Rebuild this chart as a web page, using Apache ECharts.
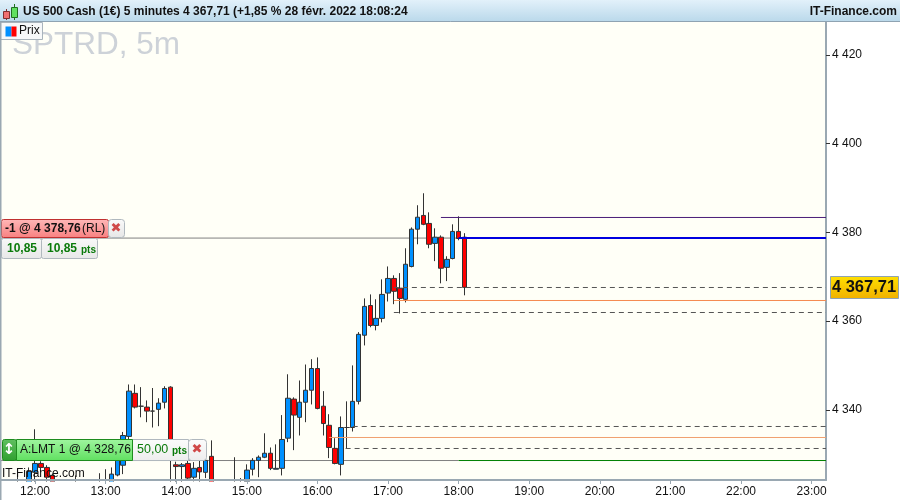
<!DOCTYPE html>
<html><head><meta charset="utf-8">
<script src="https://cdn.jsdelivr.net/npm/echarts@6/dist/echarts.min.js"></script>
<style>html,body{margin:0;padding:0;background:#fff}#c{width:900px;height:500px}</style></head>
<body><div id="c"></div>
<script>
const times=['11:45','11:55','12:00','12:05','12:10','12:15','12:35','12:55',
'13:00','13:05','13:10','13:15','13:20','13:25','13:30','13:35','13:40','13:45','13:50','13:55',
'14:00','14:05','14:10','14:15','14:20','14:25','14:30','14:50','14:55',
'15:00','15:05','15:10','15:15','15:20','15:25','15:30','15:35','15:40','15:45','15:50','15:55',
'16:00','16:05','16:10','16:15','16:20','16:25','16:30','16:35','16:40','16:45','16:50','16:55',
'17:00','17:05','17:10','17:15','17:20','17:25','17:30','17:35','17:40','17:45','17:50','17:55',
'18:00','18:05'];
const opens=[4322.5,4323.5,4325.9,4327.9,4327.0,4325.2,4323.5,4323,
4323.6,4323.5,4325.3,4327.5,4334.0,4343.7,4340.8,4340.6,4339.7,4340.1,4341.7,4345.1,
4327.6,4327.2,4327.9,4324.8,4327.0,4325.9,4329.5,4323.6,4323.5,
4323.8,4326.6,4328.6,4329.3,4330.2,4326.6,4326.8,4333.6,4342.4,4338.3,4341.7,4344.4,
4349.3,4340.8,4336.5,4331.3,4327.7,4336.0,4336.0,4341.9,4356.8,4363.5,4359.0,4360.6,
4366.3,4369.6,4367.4,4364.9,4372.3,4380.7,4383.8,4382.0,4377.5,4378.9,4372.1,4374.1,
4380.2,4378.9];
const closes=[4323.0,4326.1,4327.9,4327.0,4324.8,4323.7,4323.2,4323.6,
4323.3,4325.5,4328.6,4334.2,4344.2,4340.6,4340.8,4339.7,4339.7,4341.5,4344.8,4328.6,
4327.2,4327.6,4324.6,4326.8,4326.0,4328.6,4323.5,4323.3,4323.2,
4326.4,4328.6,4329.3,4330.2,4326.8,4326.8,4333.3,4342.6,4338.8,4341.7,4344.4,4349.3,
4340.3,4336.9,4331.5,4327.9,4336.0,4336.0,4341.9,4357.0,4363.3,4359.0,4360.6,4366.0,
4369.6,4366.7,4365.1,4372.8,4380.7,4383.4,4381.8,4377.3,4378.9,4371.9,4373.9,4380.2,
4378.6,4367.6];
const lows=[4322,4323,4323.7,4325.9,4323.7,4323.2,4322.5,4322.4,
4322.8,4323,4325,4325.5,4333.1,4340.3,4338.3,4337.2,4336.0,4336.3,4340.3,4323,
4323.5,4323.5,4324.3,4323.8,4323.5,4324.6,4323,4323,4322.9,
4323.5,4325.2,4324.8,4329.1,4326.4,4326.6,4325.2,4332.7,4330.9,4334.2,4337.2,4341.2,
4340.1,4334.2,4329.1,4327.7,4325.2,4331.3,4335.1,4341.2,4354.5,4358.6,4357.9,4359.7,
4364.4,4363.8,4361.7,4364.2,4372.1,4377.3,4381.6,4376.4,4373.5,4368.5,4369.0,4373.9,
4378.2,4365.8];
const highs=[4325.7,4327,4335.6,4328.4,4327.5,4325.6,4325.2,4325.7,
4326.6,4327.0,4330,4335,4345.7,4345.7,4345.1,4342.1,4344.9,4342.6,4345.3,4345.3,
4328.3,4328.0,4328.6,4328.2,4329.7,4333.1,4333.1,4329.3,4324.6,
4327.7,4329.1,4329.7,4334.7,4331.5,4332.2,4338.8,4348.0,4342.8,4346.6,4350.2,4351.4,
4351.8,4344.2,4339.0,4333.6,4338.5,4341.9,4350.0,4357.5,4365.1,4366.0,4364.9,4369.4,
4372.3,4370.3,4370.8,4376.4,4381.1,4386.1,4388.8,4384.5,4380.9,4379.3,4374.6,4381.8,
4383.6,4379.8];
const priceTicks=[4340,4360,4380,4400,4420];
const levelValues=[4378.7,4378.7,4383.34,4367.56,4364.63,4361.92,4336.23,4333.75,4331.27,4328.56,4328.56];
const levelStarts=[null,'18:00','17:45','17:05','17:05','17:05','16:30','16:10','16:24',null,'18:00'];
const levelEnds=['18:00',null,null,null,null,null,null,null,null,'18:00',null];
const levelColors=['#808080','#0000E0','#4B1E78','#555555','#F58A50','#555555','#555555','#F0A070','#555555','#808080','#008000'];
const levelDashed=[0,0,0,1,0,1,1,0,1,0,0];
const levelWidths=[1,2,1,1,1,1,1,1,1,1,1];
const levelZ=[1,6,6,6,6,6,6,6,6,1,6];

const day=s=>new Date('2022-02-28T'+s+':00').getTime();
const axisMin=new Date('2022-02-28T11:31:06').getTime();
const axisMax=new Date('2022-02-28T23:12:16').getTime();
const fmtPrice=v=>{const s=String(v);return s.slice(0,1)+' '+s.slice(1);};
const FONT='"Liberation Sans",Arial,sans-serif';
const candleData=times.map((t,i)=>[day(t),opens[i],closes[i],lows[i],highs[i]]);
const levelSeries=levelValues.map((v,i)=>({
  type:'line',silent:true,symbol:'none',animation:false,z:levelZ[i],
  data:[[levelStarts[i]?day(levelStarts[i]):axisMin,v],[levelEnds[i]?day(levelEnds[i]):axisMax,v]],
  lineStyle:{color:levelColors[i],width:levelWidths[i],type:levelDashed[i]?[5,4]:'solid'}
}));
const vGrad=(a,b)=>({type:'linear',x:0,y:0,x2:0,y2:1,colorStops:[{offset:0,color:a},{offset:1,color:b}]});
const rect=(x,y,w,h,fill,stroke,r,z)=>({type:'rect',silent:true,z:z||20,shape:{x:x+.5,y:y+.5,width:w,height:h,r:r||0},style:{fill:fill,stroke:stroke||null,lineWidth:1}});
const text=(x,y,t,font,fill,align,z)=>({type:'text',silent:true,z:z||21,style:{x:x,y:y,text:t,font:font,fill:fill,align:align||'left',verticalAlign:'middle'}});
const graphics=[
  rect(2,481,824,19,'#FFFFFF',null,0,20),
  rect(-1,-1,902,22,vGrad('#E4F2FB','#B9D8EA'),'#8FA3B2'),
  rect(3,11,6,7,'#F07070','#803030',0,22),
  {type:'line',silent:true,z:21,shape:{x1:6.5,y1:9,x2:6.5,y2:20},style:{stroke:'#803030'}},
  {type:'line',silent:true,z:21,shape:{x1:14.5,y1:4,x2:14.5,y2:20},style:{stroke:'#207020'}},
  rect(11,7,6,10,'#60E060','#207020',0,22),
  text(23,12,'US 500 Cash (1€) 5 minutes 4 367,71 (+1,85 % 28 févr. 2022 18:08:24','bold 12px '+FONT,'#111'),
  text(897,12,'IT-Finance.com','bold 12px '+FONT,'#111','right'),
  text(12,45,'SPTRD, 5m','31.5px '+FONT,'#CDD2D8','left',8),
  rect(0,22,42,17,'#F6F8F9','#A9B4BC',0),
  rect(5,26,6,10,'#0090FF'),rect(11,26,5,10,'#FF0000'),
  text(19,31,'Prix','12px '+FONT,'#111'),
  rect(1,219,107,18,vGrad('#FFB8B8','#F88080'),'#C03030',2),
  text(5,228.5,'-1 @ 4 378,76','bold 12px '+FONT,'#111'),
  text(82,228.5,'(RL)','12px '+FONT,'#111'),
  rect(108,219,16,18,vGrad('#FAFAFA','#E6E6E6'),'#B0B8BE',3),
  text(116,229,'✖','13px "DejaVu Sans"','#D04848','center'),
  rect(1,238,40,20,vGrad('#F8F8F8','#E8E8E8'),'#B0B8BE',2),
  rect(41,238,56,20,vGrad('#F8F8F8','#E8E8E8'),'#B0B8BE',2),
  text(7,249,'10,85','bold 12px '+FONT,'#0A7A0A'),
  text(47,249,'10,85','bold 12px '+FONT,'#0A7A0A'),
  text(81,250,'pts','bold 10px '+FONT,'#0A7A0A'),
  rect(132,439,56,21,vGrad('#FCFCFC','#EDEDED'),'#B0B8BE',0),
  text(137,450,'50,00','12.5px '+FONT,'#0A7A0A'),
  text(172,451,'pts','bold 10px '+FONT,'#0A7A0A'),
  rect(188,439,18,21,vGrad('#FCFCFC','#EDEDED'),'#B0B8BE',3),
  text(197,450,'✖','13px "DejaVu Sans"','#D04848','center'),
  rect(16,439,116,21,vGrad('#A0F5A0','#60E060'),'#1E8C1E',0),
  text(20,450,'A:LMT 1 @ 4 328,76','12px '+FONT,'#111'),
  rect(2,439,14,21,vGrad('#60C060','#2F9F2F'),'#1E8C1E',2),
  text(9,450,'↕','bold 15px "DejaVu Sans"','#FFFFFF','center'),
  text(2,474,'IT-Finance.com','12px '+FONT,'#111','left',9),
  rect(830,276,68,22,vGrad('#FFE000','#F0B000'),'#8FA3B2',0),
  text(864,287.5,'4 367,71','bold 16.5px '+FONT,'#111','center'),
  {type:'line',silent:true,z:20,shape:{x1:0.5,y1:22,x2:0.5,y2:500},style:{stroke:'#9AA8B2',lineWidth:2}}
];
const chart=echarts.init(document.getElementById('c'),null,{renderer:'canvas'});
chart.setOption({
  animation:false,backgroundColor:'#fff',
  grid:{left:1,right:74,top:22,bottom:20,show:true,backgroundColor:'#FFFFF7',borderWidth:0},
  xAxis:{type:'time',min:axisMin,max:axisMax,minInterval:3600000,maxInterval:3600000,z:30,
    axisLine:{lineStyle:{color:'#9AA8B2',width:2}},
    axisTick:{show:true,length:4,lineStyle:{color:'#9AA8B2'}},minorTick:{show:false},splitLine:{show:false},
    axisLabel:{showMinLabel:false,showMaxLabel:false,color:'#111',fontFamily:FONT,fontSize:12,margin:6,
      formatter:v=>{const d=new Date(v);return String(d.getHours()).padStart(2,'0')+':00';}}},
  yAxis:{type:'value',position:'right',min:4324.17,max:4427.4,scale:true,
    axisLine:{show:true,onZero:false,lineStyle:{color:'#9AA8B2',width:2}},
    axisTick:{show:true,length:4,lineStyle:{color:'#333'},customValues:priceTicks},
    splitLine:{show:false},
    axisLabel:{color:'#111',fontFamily:FONT,fontSize:12,margin:6,customValues:priceTicks,formatter:fmtPrice}},
  series:[{type:'candlestick',data:candleData,encode:{x:0,y:[1,2,3,4]},barWidth:5,clip:true,z:4,
    itemStyle:{color:'#0090FF',color0:'#FF0000',borderColor:'#333',borderColor0:'#333',borderColorDoji:'#333',borderWidth:1}}].concat(levelSeries),
  graphic:{elements:graphics}
});
</script></body></html>
